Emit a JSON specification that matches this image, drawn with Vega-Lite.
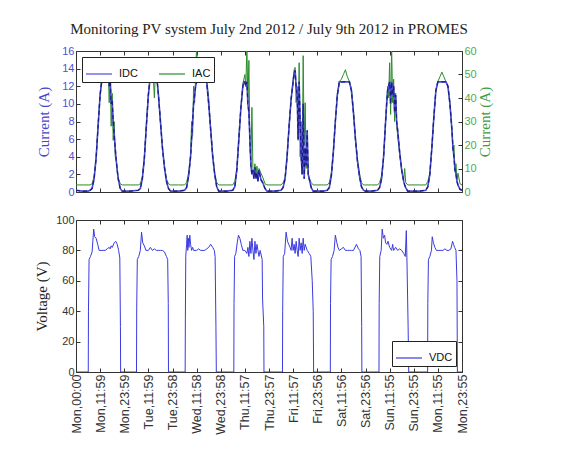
{
"$schema": "https://vega.github.io/schema/vega-lite/v6.json",
"background": "white",
"padding": {"left": 34, "top": 21, "right": 10, "bottom": 10},
"bounds": "flush",
"spacing": 28,
"resolve": {"scale": {"color": "independent"}, "legend": {"color": "independent"}},
"datasets": {
"cur": [
{"t":0,"i":0.2,"a":3},{"t":3,"i":0.1,"a":3},{"t":6,"i":0.1,"a":3},{"t":7,"i":0.2,"a":3},{"t":8,"i":0.4,"a":3.5},{"t":9,"i":1.5,"a":6.5},{"t":10,"i":3.8,"a":15},{"t":11,"i":7.5,"a":29},{"t":12,"i":11,"a":42},{"t":13,"i":13,"a":49},{"t":14,"i":14,"a":53},{"t":15,"i":14.3,"a":54},{"t":15.5,"i":14.1,"a":50},{"t":16,"i":13.8,"a":53},{"t":16.5,"i":12,"a":38},{"t":17,"i":13,"a":50},{"t":17.5,"i":10,"a":28},{"t":18,"i":10.5,"a":42},{"t":18.5,"i":8,"a":22},{"t":19,"i":6.5,"a":30},{"t":19.5,"i":5,"a":15},{"t":20,"i":3.6,"a":14},{"t":20.5,"i":2.5,"a":9},{"t":21,"i":1.5,"a":6},{"t":22,"i":0.4,"a":3.5},{"t":23,"i":0.1,"a":3},
{"t":27,"i":0.1,"a":3},{"t":31,"i":0.2,"a":3},{"t":32,"i":0.4,"a":3.5},{"t":33,"i":1.5,"a":6.5},{"t":34,"i":3.8,"a":15},{"t":35,"i":7.5,"a":29},{"t":36,"i":11,"a":42},{"t":37,"i":13.2,"a":50},{"t":38,"i":14.2,"a":54},{"t":38.5,"i":14.3,"a":48},{"t":39,"i":14.2,"a":40},{"t":39.5,"i":14,"a":52},{"t":40,"i":13.5,"a":50},{"t":41,"i":11,"a":42},{"t":42,"i":8,"a":30},{"t":43,"i":5,"a":19},{"t":44,"i":2.8,"a":11},{"t":45,"i":1.2,"a":5.5},{"t":46,"i":0.4,"a":3.5},{"t":47,"i":0.1,"a":3},
{"t":51,"i":0.1,"a":3},{"t":54,"i":0.2,"a":3},{"t":55,"i":0.5,"a":4},{"t":56,"i":1.8,"a":8},{"t":57,"i":4,"a":16},{"t":57.5,"i":6,"a":30},{"t":58,"i":8,"a":24},{"t":58.5,"i":10,"a":45},{"t":59,"i":11,"a":38},{"t":59.5,"i":12,"a":50},{"t":60,"i":12.5,"a":62},{"t":60.5,"i":12.8,"a":48},{"t":61,"i":13,"a":52},{"t":62,"i":13,"a":50},{"t":63,"i":13,"a":51},{"t":64,"i":13,"a":50},{"t":65,"i":12.5,"a":48},{"t":66,"i":10,"a":40},{"t":67,"i":7,"a":27},{"t":68,"i":4,"a":16},{"t":69,"i":2,"a":8},{"t":70,"i":0.6,"a":4},{"t":71,"i":0.1,"a":3},
{"t":75,"i":0.1,"a":3},{"t":78,"i":0.2,"a":3},{"t":79,"i":0.6,"a":4.5},{"t":80,"i":2.5,"a":10},{"t":81,"i":6,"a":23},{"t":82,"i":9.5,"a":36},{"t":83,"i":12,"a":46},{"t":83.5,"i":12.5,"a":48},{"t":84,"i":12.5,"a":50},{"t":84.5,"i":12,"a":45},{"t":85,"i":12.5,"a":62},{"t":85.5,"i":10,"a":38},{"t":86,"i":9,"a":56},{"t":86.5,"i":6,"a":20},{"t":87,"i":3,"a":12},{"t":87.5,"i":2,"a":36},{"t":88,"i":2.5,"a":10},{"t":88.5,"i":1.5,"a":8},{"t":89,"i":2.8,"a":12},{"t":89.5,"i":1.5,"a":7},{"t":90,"i":2.2,"a":11},{"t":90.5,"i":1.2,"a":6},{"t":91,"i":2.5,"a":10},{"t":92,"i":1.4,"a":8},{"t":93,"i":1,"a":6},{"t":94,"i":0.4,"a":3.5},{"t":95,"i":0.1,"a":3},
{"t":99,"i":0.1,"a":3},{"t":102,"i":0.2,"a":3},{"t":103,"i":0.5,"a":4},{"t":104,"i":1.5,"a":6},{"t":105,"i":4,"a":16},{"t":106,"i":7.5,"a":28},{"t":107,"i":10.5,"a":40},{"t":108,"i":12.5,"a":48},{"t":108.5,"i":13.5,"a":52},{"t":109,"i":13.8,"a":53},{"t":109.5,"i":12,"a":38},{"t":110,"i":11,"a":45},{"t":110.5,"i":6,"a":22},{"t":111,"i":12.5,"a":55},{"t":111.5,"i":8,"a":15},{"t":112,"i":4,"a":30},{"t":112.5,"i":2,"a":8},{"t":113,"i":10,"a":58},{"t":113.5,"i":1.5,"a":20},{"t":114,"i":5,"a":38},{"t":114.5,"i":3,"a":10},{"t":115,"i":7,"a":25},{"t":115.5,"i":2,"a":8},{"t":116,"i":1.5,"a":6},{"t":117,"i":0.5,"a":4},{"t":118,"i":0.1,"a":3},
{"t":123,"i":0.1,"a":3},{"t":125,"i":0.2,"a":3},{"t":126,"i":0.5,"a":4},{"t":127,"i":1.8,"a":8},{"t":128,"i":4.5,"a":17},{"t":129,"i":8,"a":30},{"t":130,"i":11,"a":42},{"t":131,"i":12.5,"a":47},{"t":132,"i":12.5,"a":48},{"t":133,"i":12.5,"a":50},{"t":134,"i":12.5,"a":52},{"t":135,"i":12.5,"a":49},{"t":136,"i":12.5,"a":47},{"t":137,"i":11.5,"a":44},{"t":138,"i":9,"a":35},{"t":139,"i":6,"a":23},{"t":140,"i":3.5,"a":14},{"t":141,"i":1.8,"a":8},{"t":142,"i":0.6,"a":4},{"t":143,"i":0.2,"a":3},{"t":144,"i":0.1,"a":3},
{"t":147,"i":0.1,"a":3},{"t":150,"i":0.2,"a":3},{"t":151,"i":0.5,"a":4},{"t":152,"i":1.5,"a":7},{"t":153,"i":4,"a":15},{"t":154,"i":8,"a":30},{"t":154.5,"i":10,"a":36},{"t":155,"i":11.5,"a":45},{"t":155.5,"i":12,"a":40},{"t":156,"i":12.5,"a":55},{"t":156.5,"i":10,"a":33},{"t":157,"i":12.5,"a":62},{"t":157.5,"i":11,"a":38},{"t":158,"i":12,"a":48},{"t":158.5,"i":9,"a":30},{"t":159,"i":11,"a":42},{"t":159.5,"i":8,"a":28},{"t":160,"i":7,"a":24},{"t":161,"i":4.5,"a":16},{"t":162,"i":2.5,"a":9},{"t":163,"i":1.2,"a":5},{"t":163.5,"i":0.8,"a":10},{"t":164,"i":0.5,"a":4},{"t":165,"i":0.1,"a":3},
{"t":171,"i":0.1,"a":3},{"t":174,"i":0.2,"a":3},{"t":175,"i":0.6,"a":4.5},{"t":176,"i":2,"a":8},{"t":177,"i":5,"a":19},{"t":178,"i":8.5,"a":32},{"t":179,"i":11.5,"a":43},{"t":180,"i":12.5,"a":47},{"t":181,"i":12.5,"a":49},{"t":182,"i":12.5,"a":51},{"t":183,"i":12.5,"a":49},{"t":184,"i":12.5,"a":47},{"t":185,"i":12,"a":45},{"t":186,"i":10,"a":38},{"t":187,"i":7,"a":26},{"t":187.5,"i":5,"a":18},{"t":188,"i":4,"a":20},{"t":188.5,"i":2.5,"a":9},{"t":189,"i":2,"a":12},{"t":189.5,"i":1.2,"a":5},{"t":190,"i":0.8,"a":8},{"t":191,"i":0.3,"a":3.5},{"t":192,"i":0.2,"a":3}
],
"volt": [
{"t":0,"v":0},{"t":6.1,"v":0},{"t":6.2,"v":40},{"t":6.5,"v":74},{"t":7.2,"v":76},{"t":8,"v":79},{"t":8.8,"v":94},{"t":9.3,"v":89},{"t":10,"v":88},{"t":10.8,"v":84},{"t":11.5,"v":80},{"t":12.5,"v":80},{"t":13.5,"v":80},{"t":14.5,"v":80},{"t":15.5,"v":81},{"t":16.5,"v":82},{"t":17,"v":81},{"t":17.5,"v":83},{"t":18,"v":82},{"t":19,"v":85},{"t":19.8,"v":86},{"t":20.5,"v":84},{"t":21.2,"v":80},{"t":21.8,"v":75},{"t":22.1,"v":30},{"t":22.2,"v":0},
{"t":30.1,"v":0},{"t":30.2,"v":42},{"t":30.5,"v":74},{"t":31.2,"v":76},{"t":32,"v":80},{"t":32.6,"v":92},{"t":33.2,"v":85},{"t":34,"v":83},{"t":34.8,"v":80},{"t":36,"v":80},{"t":37,"v":82},{"t":38,"v":80},{"t":39,"v":81},{"t":40,"v":80},{"t":41,"v":80},{"t":42,"v":80},{"t":43,"v":80},{"t":44,"v":79},{"t":45,"v":76},{"t":45.6,"v":74},{"t":45.9,"v":45},{"t":46,"v":0},
{"t":54.3,"v":0},{"t":54.4,"v":35},{"t":54.6,"v":76},{"t":55,"v":84},{"t":55.3,"v":90},{"t":55.6,"v":80},{"t":55.9,"v":88},{"t":56.2,"v":82},{"t":56.6,"v":90},{"t":57,"v":84},{"t":57.5,"v":80},{"t":58,"v":82},{"t":58.5,"v":80},{"t":60,"v":80},{"t":61,"v":81},{"t":62,"v":80},{"t":64,"v":80},{"t":65,"v":81},{"t":66,"v":82},{"t":67,"v":84},{"t":68,"v":82},{"t":68.8,"v":80},{"t":69.2,"v":76},{"t":69.6,"v":30},{"t":69.8,"v":0},
{"t":78.5,"v":0},{"t":78.6,"v":45},{"t":78.9,"v":76},{"t":79.5,"v":78},{"t":80.2,"v":85},{"t":80.8,"v":90},{"t":81.5,"v":88},{"t":82.2,"v":84},{"t":83,"v":80},{"t":84,"v":80},{"t":85,"v":78},{"t":85.5,"v":82},{"t":86,"v":76},{"t":86.5,"v":86},{"t":87,"v":78},{"t":87.5,"v":88},{"t":88,"v":80},{"t":88.5,"v":74},{"t":89,"v":86},{"t":89.5,"v":78},{"t":90,"v":84},{"t":90.5,"v":80},{"t":91,"v":76},{"t":91.6,"v":80},{"t":92.6,"v":74},{"t":92.8,"v":48},{"t":93.4,"v":30},{"t":93.5,"v":0},
{"t":102.7,"v":0},{"t":102.8,"v":40},{"t":103.1,"v":76},{"t":103.8,"v":78},{"t":104.5,"v":92},{"t":105.2,"v":86},{"t":105.8,"v":84},{"t":106.5,"v":82},{"t":107,"v":80},{"t":107.5,"v":88},{"t":108,"v":80},{"t":108.5,"v":84},{"t":109,"v":78},{"t":109.5,"v":86},{"t":110,"v":80},{"t":110.5,"v":76},{"t":111,"v":88},{"t":111.5,"v":80},{"t":112,"v":85},{"t":112.5,"v":78},{"t":113,"v":88},{"t":113.5,"v":80},{"t":114,"v":84},{"t":115,"v":80},{"t":116,"v":78},{"t":116.8,"v":76},{"t":117.5,"v":60},{"t":118,"v":40},{"t":118.2,"v":0},
{"t":126.5,"v":0},{"t":126.6,"v":45},{"t":126.9,"v":74},{"t":127.6,"v":76},{"t":128.4,"v":80},{"t":129,"v":90},{"t":129.6,"v":86},{"t":130.3,"v":82},{"t":131,"v":80},{"t":132,"v":81},{"t":133,"v":82},{"t":134,"v":80},{"t":135,"v":80},{"t":136,"v":80},{"t":137,"v":80},{"t":138,"v":80},{"t":139.5,"v":84},{"t":140.5,"v":81},{"t":141.2,"v":80},{"t":141.8,"v":76},{"t":142.1,"v":30},{"t":142.2,"v":0},
{"t":150.7,"v":0},{"t":150.8,"v":45},{"t":151.1,"v":76},{"t":151.8,"v":80},{"t":152.3,"v":94},{"t":152.9,"v":88},{"t":153.5,"v":90},{"t":154,"v":85},{"t":154.6,"v":84},{"t":155.2,"v":86},{"t":156,"v":82},{"t":157,"v":80},{"t":157.5,"v":84},{"t":158,"v":80},{"t":159,"v":82},{"t":160,"v":80},{"t":161,"v":81},{"t":162,"v":80},{"t":163,"v":78},{"t":163.8,"v":76},{"t":164.3,"v":93},{"t":164.6,"v":75},{"t":165.2,"v":30},{"t":165.5,"v":0},
{"t":174.9,"v":0},{"t":175,"v":45},{"t":175.3,"v":74},{"t":176,"v":76},{"t":176.8,"v":80},{"t":177.2,"v":89},{"t":177.8,"v":85},{"t":178.5,"v":82},{"t":179.3,"v":80},{"t":180.5,"v":80},{"t":181.5,"v":80},{"t":182.5,"v":80},{"t":183.5,"v":81},{"t":184.5,"v":80},{"t":185.5,"v":80},{"t":186.5,"v":81},{"t":187.3,"v":86},{"t":187.8,"v":84},{"t":188.3,"v":82},{"t":189,"v":80},{"t":189.5,"v":60},{"t":189.7,"v":0},{"t":192,"v":0}
]
},
"config": {
"view": {"stroke": "#333", "strokeWidth": 1},
"axis": {"grid": false, "domain": false, "labelFont": "Liberation Sans", "labelFontSize": 11, "titleFont": "Liberation Serif", "titleFontSize": 15, "titleFontWeight": "normal", "tickColor": "#333", "tickSize": -4, "labelPadding": 6, "labelColor": "#333", "titleColor": "#222"},
"legend": {"symbolType": "stroke", "symbolSize": 676, "symbolStrokeWidth": 1.2, "labelFont": "Liberation Sans", "labelFontSize": 11, "labelColor": "#111", "strokeColor": "#222", "fillColor": "white", "padding": 3, "cornerRadius": 0, "title": null}
},
"vconcat": [
{
"title": {"text": "Monitoring PV system July 2nd 2012 / July 9th 2012 in PROMES", "font": "Liberation Serif", "fontSize": 15, "fontWeight": "normal", "color": "#222", "offset": 8, "anchor": "middle"},
"width": 386, "height": 141,
"data": {"name": "cur"},
"layer": [
{"mark": {"type": "line", "strokeWidth": 1, "clip": true},
 "encoding": {
  "x": {"field": "t", "type": "quantitative", "scale": {"domain": [0, 192], "nice": false}, "axis": {"values": [0,12,24,36,48,60,72,84,96,108,120,132,144,156,168,180,192], "labels": false, "title": null}},
  "y": {"field": "a", "type": "quantitative", "scale": {"domain": [0, 60], "nice": false}, "axis": {"orient": "right", "values": [0,10,20,30,40,50,60], "title": "Current (A)", "titleAngle": 270, "titleBaseline": "top", "titleColor": "#3f9a3f", "labelColor": "#52aa52", "titlePadding": 1, "labelPadding": 6}},
  "color": {"datum": "IAC", "type": "nominal", "scale": {"domain": ["IDC", "IAC"], "range": ["#4a4ad8", "#2a8c2a"]}, "legend": {"orient": "top-left", "offset": 6, "direction": "horizontal", "columnPadding": 18, "labelOffset": 6}}
 }},
{"mark": {"type": "line", "strokeWidth": 1.6, "clip": true},
 "encoding": {
  "x": {"field": "t", "type": "quantitative", "scale": {"domain": [0, 192], "nice": false}, "axis": null},
  "y": {"field": "i", "type": "quantitative", "scale": {"domain": [0, 16], "nice": false}, "axis": {"orient": "left", "values": [0,2,4,6,8,10,12,14,16], "title": "Current (A)", "titleColor": "#4444cc", "labelColor": "#5050d8", "titlePadding": 10}},
  "color": {"datum": "IDC", "type": "nominal"}
 }},
{"mark": {"type": "line", "strokeWidth": 1.2, "strokeDash": [4, 3], "color": "#1c1c7a", "clip": true},
 "encoding": {
  "x": {"field": "t", "type": "quantitative", "scale": {"domain": [0, 192], "nice": false}, "axis": {"orient": "top", "values": [0,12,24,36,48,60,72,84,96,108,120,132,144,156,168,180,192], "labels": false, "title": null}},
  "y": {"field": "i", "type": "quantitative", "scale": {"domain": [0, 16], "nice": false}, "axis": null}
 }}
],
"resolve": {"scale": {"y": "independent"}, "axis": {"x": "independent"}}
},
{
"width": 386, "height": 152,
"data": {"name": "volt"},
"layer": [
{"mark": {"type": "line", "strokeWidth": 1, "clip": true},
 "encoding": {
  "x": {"field": "t", "type": "quantitative", "scale": {"domain": [0, 192], "nice": false}, "axis": {"values": [0,12,24,36,48,60,72,84,96,108,120,132,144,156,168,180,192], "title": null, "labelAngle": 270, "labelAlign": "right", "labelBaseline": "middle", "labelFontSize": 12.5, "labelOverlap": false, "labelFlush": false, "labelExpr": "['Mon,00:00','Mon,11:59','Mon,23:59','Tue,11:59','Tue,23:58','Wed,11:58','Wed,23:58','Thu,11:57','Thu,23:57','Fri,11:57','Fri,23:56','Sat,11:56','Sat,23:56','Sun,11:55','Sun,23:55','Mon,11:55','Mon,23:55'][round(datum.value/12)]"}},
  "y": {"field": "v", "type": "quantitative", "scale": {"domain": [0, 100], "nice": false}, "axis": {"orient": "left", "values": [0,20,40,60,80,100], "title": "Voltage (V)", "titlePadding": 6}},
  "color": {"datum": "VDC", "type": "nominal", "scale": {"domain": ["VDC"], "range": ["#3a3ae0"]}, "legend": {"orient": "bottom-right", "offset": 6, "direction": "horizontal", "labelOffset": 6}}
 }},
{"mark": {"type": "line", "opacity": 0},
 "encoding": {
  "x": {"field": "t", "type": "quantitative", "scale": {"domain": [0, 192], "nice": false}, "axis": {"orient": "top", "values": [0,12,24,36,48,60,72,84,96,108,120,132,144,156,168,180,192], "labels": false, "title": null}},
  "y": {"field": "v", "type": "quantitative", "scale": {"domain": [0, 100], "nice": false}, "axis": {"orient": "right", "values": [0,20,40,60,80,100], "labels": false, "title": null}}
 }}
],
"resolve": {"axis": {"x": "independent", "y": "independent"}}
}
]
}
